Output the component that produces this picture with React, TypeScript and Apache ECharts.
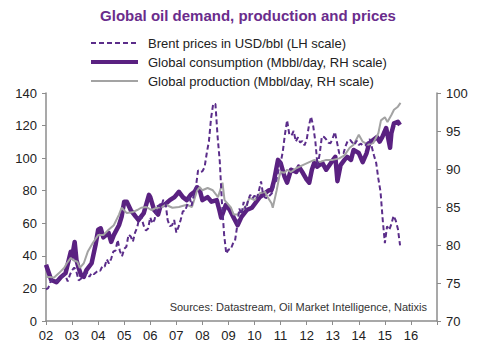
import React, { useEffect, useRef } from "react";
import * as echarts from "echarts";

const title = "Global oil demand, production and prices";
const legendNames = [
  "Brent prices in USD/bbl (LH scale)",
  "Global consumption (Mbbl/day, RH scale)",
  "Global production (Mbbl/day, RH scale)",
];
const sourceNote = "Sources: Datastream, Oil Market Intelligence, Natixis";
const yearTicks = [2002, 2003, 2004, 2005, 2006, 2007, 2008, 2009, 2010, 2011, 2012, 2013, 2014, 2015, 2016, 2017];

// Brent monthly, starting Jan 2002 (USD/bbl, left scale)
const brentStart = 2002;
const brentMonthly = [
  19.4, 20.2, 23.7, 25.7, 25.4, 24.1, 25.7, 26.6, 28.4, 27.5, 24.3, 28.3,
  31.2, 32.8, 30.3, 25.0, 25.8, 27.6, 28.4, 29.8, 27.1, 29.6, 28.8, 29.8,
  31.2, 30.9, 33.8, 33.4, 37.9, 35.2, 38.2, 42.7, 43.2, 49.8, 43.1, 39.7,
  44.3, 45.6, 53.1, 51.9, 48.7, 54.3, 57.5, 64.0, 62.9, 58.5, 55.5, 56.8,
  63.6, 59.9, 62.3, 70.4, 70.9, 69.9, 74.4, 73.0, 62.0, 58.3, 58.7, 62.0,
  54.3, 57.8, 62.1, 67.4, 67.5, 71.3, 77.2, 70.8, 77.1, 82.3, 92.5, 91.5,
  91.9, 94.4, 103.0, 110.4, 124.6, 133.5, 133.2, 113.2, 98.0, 72.5, 53.0, 41.3,
  43.9, 43.8, 47.4, 49.2, 58.1, 69.1, 65.4, 73.1, 68.2, 73.9, 77.5, 75.2,
  77.0, 74.8, 79.9, 85.7, 77.0, 75.7, 75.5, 77.1, 78.4, 83.5, 86.1, 92.5,
  96.9, 104.0, 114.6, 123.3, 114.5, 113.9, 116.7, 110.2, 112.8, 109.6, 110.5, 107.9,
  111.2, 119.7, 125.5, 119.8, 110.3, 95.2, 102.6, 113.4, 113.0, 111.5, 109.5, 109.2,
  112.3, 116.1, 109.5, 102.9, 103.0, 103.1, 107.7, 110.9, 111.2, 109.5, 108.1, 110.7,
  108.1, 108.9, 107.5, 107.8, 109.5, 111.8, 106.8, 101.6, 97.1, 87.4, 79.4, 62.3,
  47.8, 58.1, 55.9, 59.5, 64.6, 61.7, 56.5, 46.5,
];

// Global consumption (Mbbl/day, right scale)
const consYears = [
  2002.0, 2002.07, 2002.2, 2002.4, 2002.55, 2002.75, 2002.95, 2003.0, 2003.1, 2003.17,
  2003.25, 2003.35, 2003.45, 2003.55, 2003.75, 2003.9, 2004.0, 2004.1, 2004.2, 2004.3,
  2004.4, 2004.5, 2004.6, 2004.8, 2004.9, 2005.0, 2005.1, 2005.25, 2005.45, 2005.55,
  2005.75, 2005.95, 2006.0, 2006.15, 2006.3, 2006.4, 2006.55, 2006.75, 2006.93, 2007.1,
  2007.25, 2007.4, 2007.55, 2007.7, 2007.8, 2007.9, 2008.0, 2008.2, 2008.35, 2008.55,
  2008.65, 2008.72, 2008.9, 2009.05, 2009.2, 2009.35, 2009.5, 2009.7, 2009.9, 2010.2,
  2010.4, 2010.55, 2010.65, 2010.75, 2010.9, 2011.0, 2011.15, 2011.25, 2011.4, 2011.6,
  2011.7, 2011.85, 2012.0, 2012.1, 2012.2, 2012.3, 2012.4, 2012.6, 2012.75, 2012.95,
  2013.1, 2013.18, 2013.3, 2013.45, 2013.55, 2013.7, 2013.8, 2014.0, 2014.15, 2014.3,
  2014.4, 2014.55, 2014.7, 2014.8, 2014.9, 2015.05, 2015.2, 2015.25, 2015.35, 2015.5,
  2015.58,
];
const consValues = [
  77.4, 76.7, 75.4, 75.1, 75.7, 76.3, 79.1, 78.4, 80.4, 78.0,
  77.0, 76.0, 75.8, 76.7, 77.6, 80.0, 82.0, 82.2, 81.0, 81.3,
  81.6, 80.4, 81.3, 82.6, 83.7, 85.7, 85.7, 84.6, 83.7, 83.3,
  84.2, 86.6, 86.3, 84.6, 84.0, 85.2, 85.3, 85.9, 86.3, 87.0,
  86.3, 85.9, 86.6, 87.0, 87.6, 87.2, 85.9, 86.3, 85.7, 85.9,
  84.6, 83.6, 85.3, 84.6, 83.6, 82.6, 83.7, 84.6, 84.9, 86.3,
  86.8, 87.2, 87.2, 88.5, 91.2, 90.8, 89.0, 88.2, 89.9, 89.6,
  90.3, 89.5, 88.6, 88.2, 89.9, 90.9, 90.3, 90.8, 89.9, 90.9,
  91.6, 88.4, 90.5, 91.2, 91.6, 91.2, 92.5, 92.1, 90.9, 92.1,
  93.4, 93.8, 94.2, 93.6, 94.2, 95.4, 92.8, 94.7, 96.0, 96.2,
  95.8,
];

// Global production (Mbbl/day, right scale)
const prodYears = [
  2002.0, 2002.15, 2002.3, 2002.5, 2002.7, 2002.8, 2002.95, 2003.05, 2003.2, 2003.3,
  2003.45, 2003.6, 2003.8, 2004.0, 2004.2, 2004.4, 2004.6, 2004.8, 2004.9, 2005.1,
  2005.3, 2005.5, 2005.65, 2005.85, 2006.05, 2006.25, 2006.45, 2006.6, 2006.85, 2007.1,
  2007.4, 2007.6, 2007.8, 2007.9, 2008.0, 2008.2, 2008.4, 2008.6, 2008.77, 2008.85,
  2008.95, 2009.1, 2009.2, 2009.35, 2009.55, 2009.7, 2009.8, 2010.0, 2010.2, 2010.4,
  2010.5, 2010.65, 2010.7, 2010.85, 2010.95, 2011.0, 2011.15, 2011.25, 2011.4, 2011.6,
  2011.85, 2012.1, 2012.3, 2012.5, 2012.75, 2013.0, 2013.25, 2013.45, 2013.65, 2013.8,
  2014.0, 2014.15, 2014.35, 2014.55, 2014.75, 2014.85, 2015.0, 2015.1, 2015.25, 2015.35,
  2015.5, 2015.6,
];
const prodValues = [
  75.8, 75.8, 75.7, 76.3, 77.0, 77.6, 78.3, 78.0, 77.8, 77.0,
  77.6, 79.1, 80.3, 81.3, 81.3, 82.0, 82.6, 84.0, 84.9, 84.2,
  84.3, 84.6, 84.9, 85.0, 84.6, 84.9, 85.0, 85.3, 84.9, 85.0,
  85.3, 85.0, 87.2, 87.6, 87.2, 87.5, 87.2, 86.3, 88.2, 85.9,
  85.5, 84.9, 84.0, 84.0, 84.6, 85.3, 86.2, 85.9, 86.8, 87.0,
  86.3, 85.5, 84.9, 87.2, 89.0, 89.6, 89.5, 89.9, 89.6, 90.1,
  90.5, 90.9, 91.2, 90.9, 91.2, 91.2, 91.4, 91.8, 92.8, 93.2,
  94.5, 93.6, 93.2, 93.4, 94.7, 96.4, 96.8, 96.2, 97.1, 97.8,
  98.2, 98.7,
];

const PURPLE = "#5a2181";
const GREY = "#a3a3a3";
const AXIS = "#8c8c8c";
const FONT = "Liberation Sans, Arial, sans-serif";

export default function App() {
  const ref = useRef<HTMLDivElement>(null);
  useEffect(() => {
    if (!ref.current) return;
    const chart = echarts.init(ref.current, null, { renderer: "svg" });
    const brentData = brentMonthly.map((v, i) => [brentStart + i / 12, v]);
    const consData = consYears.map((y, i) => [y, consValues[i]]);
    const prodData = prodYears.map((y, i) => [y, prodValues[i]]);
    const legendRows = [43, 62, 81];
    chart.setOption({
      animation: false,
      textStyle: { fontFamily: FONT },
      title: {
        text: title,
        left: 243,
        textAlign: "center",
        top: 3,
        textStyle: { color: "#6a2c8c", fontSize: 15, fontWeight: "bold", fontFamily: FONT },
      },
      grid: { left: 46, right: 63, top: 93, bottom: 42, containLabel: false },
      xAxis: {
        type: "value",
        min: yearTicks[0],
        max: yearTicks[yearTicks.length - 1],
        interval: 1,
        splitLine: { show: false },
        axisLine: { lineStyle: { color: AXIS, width: 1.5 } },
        axisTick: { show: true, length: 4, lineStyle: { color: AXIS } },
        axisLabel: {
          color: "#222",
          fontSize: 13,
          margin: 8,
          formatter: (v: number) => (v >= 2017 ? "" : String(Math.round(v)).slice(2)),
        },
      },
      yAxis: [
        {
          type: "value",
          min: 0,
          max: 140,
          interval: 20,
          position: "left",
          splitLine: { show: false },
          axisLine: { show: true, lineStyle: { color: AXIS, width: 1.5 } },
          axisTick: { show: true, length: 4, lineStyle: { color: AXIS } },
          axisLabel: { color: "#222", fontSize: 13, margin: 9 },
        },
        {
          type: "value",
          min: 70,
          max: 100,
          interval: 5,
          position: "right",
          splitLine: { show: false },
          axisLine: { show: true, lineStyle: { color: AXIS, width: 1.5 } },
          axisTick: { show: true, length: 4, lineStyle: { color: AXIS } },
          axisLabel: { color: "#222", fontSize: 13, margin: 9 },
        },
      ],
      series: [
        {
          name: legendNames[1],
          type: "line",
          yAxisIndex: 1,
          data: consData,
          showSymbol: false,
          lineStyle: { color: PURPLE, width: 4.5, join: "round" },
          itemStyle: { color: PURPLE },
          z: 2,
        },
        {
          name: legendNames[2],
          type: "line",
          yAxisIndex: 1,
          data: prodData,
          showSymbol: false,
          lineStyle: { color: GREY, width: 2 },
          itemStyle: { color: GREY },
          z: 3,
        },
        {
          name: legendNames[0],
          type: "line",
          yAxisIndex: 0,
          data: brentData,
          showSymbol: false,
          lineStyle: { color: "#5b2d8a", width: 2, type: [5, 3] },
          itemStyle: { color: "#5b2d8a" },
          z: 4,
        },
      ],
      graphic: [
        {
          type: "line",
          shape: { x1: 91, y1: legendRows[0], x2: 138, y2: legendRows[0] },
          style: { stroke: "#5b2d8a", lineWidth: 2, lineDash: [5, 3] },
        },
        {
          type: "line",
          shape: { x1: 91, y1: legendRows[1], x2: 138, y2: legendRows[1] },
          style: { stroke: PURPLE, lineWidth: 4 },
        },
        {
          type: "line",
          shape: { x1: 91, y1: legendRows[2], x2: 138, y2: legendRows[2] },
          style: { stroke: GREY, lineWidth: 2 },
        },
        ...legendNames.map((n, i) => ({
          type: "text",
          x: 148,
          y: legendRows[i],
          style: { text: n, fill: "#222", fontSize: 13, fontFamily: FONT, textVerticalAlign: "middle" },
        })),
        {
          type: "text",
          x: 427,
          y: 307,
          style: {
            text: sourceNote,
            fill: "#333",
            fontSize: 11,
            fontFamily: FONT,
            textAlign: "right",
            textVerticalAlign: "middle",
          },
        },
      ],
    });
    return () => chart.dispose();
  }, []);
  return <div ref={ref} style={{ width: 500, height: 363, position: "absolute", left: 0, top: 0 }} />;
}
